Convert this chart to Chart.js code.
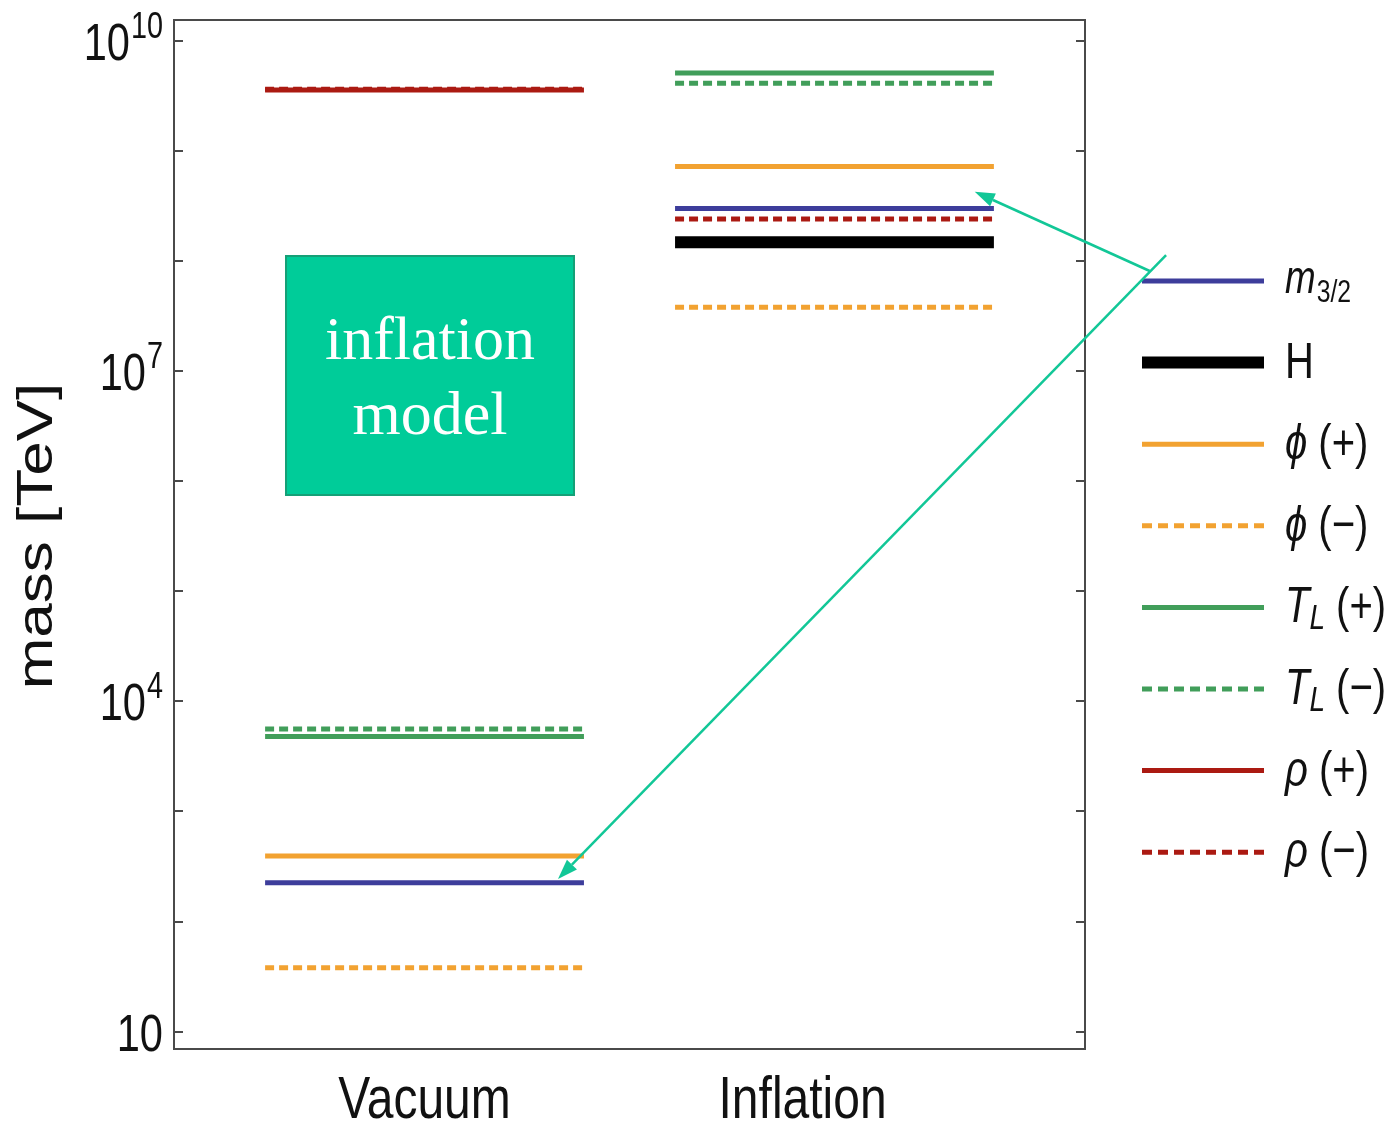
<!DOCTYPE html>
<html>
<head>
<meta charset="utf-8">
<title>mass spectrum</title>
<script src="https://cdn.jsdelivr.net/npm/chart.js@4.4.1/dist/chart.umd.min.js"></script>
<style>
  html, body { margin: 0; padding: 0; background: #fff; }
  #wrap { position: relative; width: 1393px; height: 1131px; }
  #box {
    position: absolute; left: 285px; top: 255px; width: 286px; height: 237px;
    background: #00cc99; border: 2px solid #15a077; color: #fff;
    font-family: "Liberation Serif", "Times New Roman", serif; font-size: 62px; line-height: 75px;
    display: flex; align-items: center; justify-content: center; text-align: center;
  }
</style>
</head>
<body>
<div id="wrap">
  <canvas id="grafico" width="1393" height="1131"></canvas>
  <div id="box">inflation<br>model</div>
</div>
<script>
// fases y posiciones en el eje x (unidades del eje lineal 0..10)
const phases = ['Vacuum', 'Inflation'];
const phaseLabelPos = [2.75, 6.9];
const phaseSpan = [[1.0, 4.5], [5.5, 9.0]];

// masas en TeV, [Vacuum, Inflation]
const m32      = [225, 3.0e8];
const hubble   = [null, 1.48e8];
const phiPlus  = [394, 7.2e8];
const phiMinus = [38, 3.8e7];
const tlPlus   = [4.8e3, 5.1e9];
const tlMinus  = [5.6e3, 4.1e9];
const rhoPlus  = [3.57e9, null];
const rhoMinus = [3.63e9, 2.4e8];

// ticks del eje y (potencias de 10)
const yTickPowers = [1, 2, 3, 4, 5, 6, 7, 8, 9, 10];
const yLabelPowers = [1, 4, 7, 10];

const series = [
  { name: 'm', sub: '3/2', values: m32,      color: '#3d3d9b', width: 5,  dash: [] },
  { name: 'H',             values: hubble,   color: '#000000', width: 12, dash: [] },
  { name: 'ϕ', sign: '+',  values: phiPlus,  color: '#f2a231', width: 5,  dash: [] },
  { name: 'ϕ', sign: '−',  values: phiMinus, color: '#f2a231', width: 5,  dash: [9, 5] },
  { name: 'T', sub: 'L', sign: '+', values: tlPlus,  color: '#419e5a', width: 5, dash: [] },
  { name: 'T', sub: 'L', sign: '−', values: tlMinus, color: '#419e5a', width: 5, dash: [9, 5] },
  { name: 'ρ', sign: '+',  values: rhoPlus,  color: '#ab1a12', width: 5,  dash: [] },
  { name: 'ρ', sign: '−',  values: rhoMinus, color: '#ab1a12', width: 5,  dash: [9, 5] }
];

// flechas (en unidades de datos)
const arrows = [
  { from: [10.71, 8.1e7], to: [8.79, 4.25e8] },
  { from: [10.89, 1.13e8], to: [4.215, 244] }
];

const FONT = '"Liberation Sans", Arial, sans-serif';
const sx = 0.8; // texto algo comprimido en horizontal, como en la figura

function texto(ctx, str, x, y, font, align) {
  ctx.save();
  ctx.font = font;
  var w = ctx.measureText(str).width * sx;
  var x0 = x;
  if (align === 'center') x0 = x - w / 2;
  if (align === 'right') x0 = x - w;
  ctx.translate(x0, y);
  ctx.scale(sx, 1);
  ctx.textAlign = 'left';
  ctx.textBaseline = 'alphabetic';
  ctx.fillText(str, 0, 0);
  ctx.restore();
  return w;
}

var datasets = [];
series.forEach(function(s) {
  s.values.forEach(function(v, i) {
    if (v === null) return;
    datasets.push({
      label: s.name + (s.sub || '') + (s.sign ? ' (' + s.sign + ')' : ''),
      data: [{ x: phaseSpan[i][0], y: v }, { x: phaseSpan[i][1], y: v }],
      borderColor: s.color,
      borderWidth: s.width,
      borderDash: s.dash,
      borderCapStyle: 'butt',
      pointRadius: 0,
      fill: false,
      order: s.dash.length ? 1 : 0
    });
  });
});

var extras = {
  id: 'extras',
  afterDraw: function(chart) {
    var ctx = chart.ctx;
    var a = chart.chartArea;
    var xs = chart.scales.x, ys = chart.scales.y;
    ctx.save();

    // marco
    ctx.strokeStyle = '#4a4a4a';
    ctx.lineWidth = 2;
    ctx.strokeRect(a.left, a.top, a.right - a.left, a.bottom - a.top);

    // ticks
    yTickPowers.forEach(function(p) {
      var py = Math.round(ys.getPixelForValue(Math.pow(10, p)));
      ctx.beginPath();
      ctx.moveTo(a.left, py); ctx.lineTo(a.left + 9, py);
      ctx.moveTo(a.right, py); ctx.lineTo(a.right - 9, py);
      ctx.stroke();
    });

    // etiquetas del eje y
    ctx.fillStyle = '#111';
    yLabelPowers.forEach(function(p) {
      var py = ys.getPixelForValue(Math.pow(10, p));
      var right = 163;
      if (p === 1) {
        texto(ctx, '10', right, py + 19, '52px ' + FONT, 'right');
      } else {
        ctx.font = '36px ' + FONT;
        var wSup = ctx.measureText(String(p)).width * sx;
        texto(ctx, String(p), right, py - 3, '36px ' + FONT, 'right');
        texto(ctx, '10', right - wSup - 1, py + 19, '52px ' + FONT, 'right');
      }
    });

    // etiquetas del eje x
    phases.forEach(function(ph, i) {
      texto(ctx, ph, xs.getPixelForValue(phaseLabelPos[i]), a.bottom + 69, '60px ' + FONT, 'center');
    });

    // título del eje y
    ctx.save();
    ctx.translate(38, 536);
    ctx.rotate(-Math.PI / 2);
    ctx.scale(1, sx);
    ctx.font = '62px ' + FONT;
    ctx.textAlign = 'center';
    ctx.textBaseline = 'middle';
    ctx.fillText('mass [TeV]', 0, 0);
    ctx.restore();

    // leyenda
    var ly0 = 281, dly = 81.6;
    series.forEach(function(s, k) {
      var y = ly0 + k * dly;
      ctx.save();
      ctx.strokeStyle = s.color;
      ctx.lineWidth = s.width;
      ctx.setLineDash(s.dash.length ? [10, 6] : []);
      ctx.beginPath();
      ctx.moveTo(1142, y); ctx.lineTo(1264, y);
      ctx.stroke();
      ctx.restore();

      var x = 1285;
      ctx.fillStyle = '#111';
      if (s.name === 'm') {
        x += texto(ctx, 'm', x, y + 12, 'italic 46px ' + FONT, 'left');
        texto(ctx, s.sub, x + 1, y + 21, '31px ' + FONT, 'left');
      } else if (s.name === 'H') {
        texto(ctx, 'H', x, y + 15, '50px ' + FONT, 'left');
      } else {
        x += texto(ctx, s.name, x, y + 15, 'italic 50px ' + FONT, 'left');
        if (s.sub) x += texto(ctx, s.sub, x, y + 22, 'italic 35px ' + FONT, 'left');
        texto(ctx, ' (' + s.sign + ')', x, y + 15, '50px ' + FONT, 'left');
      }
    });

    // flechas
    ctx.strokeStyle = '#12c797';
    ctx.fillStyle = '#12c797';
    ctx.lineWidth = 2.5;
    arrows.forEach(function(ar) {
      var x1 = xs.getPixelForValue(ar.from[0]), y1 = ys.getPixelForValue(ar.from[1]);
      var x2 = xs.getPixelForValue(ar.to[0]), y2 = ys.getPixelForValue(ar.to[1]);
      var ang = Math.atan2(y2 - y1, x2 - x1);
      var L = 20, W = 7;
      var bx = x2 - L * Math.cos(ang), by = y2 - L * Math.sin(ang);
      ctx.beginPath();
      ctx.moveTo(x1, y1); ctx.lineTo(bx, by);
      ctx.stroke();
      ctx.beginPath();
      ctx.moveTo(x2, y2);
      ctx.lineTo(bx + W * Math.sin(ang), by - W * Math.cos(ang));
      ctx.lineTo(bx - W * Math.sin(ang), by + W * Math.cos(ang));
      ctx.closePath();
      ctx.fill();
    });

    ctx.restore();
  }
};

var ctxGrafico = document.getElementById('grafico').getContext('2d');
var grafico = new Chart(ctxGrafico, {
  type: 'line',
  data: { datasets: datasets },
  options: {
    responsive: false,
    animation: false,
    layout: { padding: { left: 174, top: 20, right: 308, bottom: 82 } },
    plugins: { legend: { display: false }, tooltip: { enabled: false } },
    scales: {
      x: { type: 'linear', min: 0, max: 10, display: false },
      y: { type: 'logarithmic', min: 6.966, max: 1.542e10, display: false }
    }
  },
  plugins: [extras]
});
</script>
</body>
</html>
